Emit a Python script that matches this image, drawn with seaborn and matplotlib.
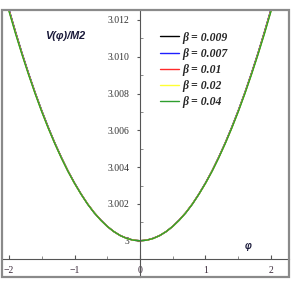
import pandas as pd
import seaborn as sns
from matplotlib import pyplot as plt
from matplotlib.patches import Rectangle
from matplotlib.ticker import MultipleLocator

# values (phi from -2 to 2)
phi = [-2.0, -1.9, -1.8, -1.7, -1.6, -1.5, -1.4, -1.3, -1.2, -1.1, -1.0,
       -0.9, -0.8, -0.7, -0.6, -0.5, -0.4, -0.3, -0.2, -0.1, 0.0,
       0.1, 0.2, 0.3, 0.4, 0.5, 0.6, 0.7, 0.8, 0.9, 1.0,
       1.1, 1.2, 1.3, 1.4, 1.5, 1.6, 1.7, 1.8, 1.9, 2.0]
v_0009 = [3.01257, 3.01135, 3.01018, 3.00908, 3.00804, 3.00707, 3.00616, 3.00531, 3.00453, 3.00380, 3.00314,
          3.00254, 3.00200, 3.00153, 3.00113, 3.00078, 3.00050, 3.00028, 3.00013, 3.00003, 3.0,
          3.00003, 3.00013, 3.00028, 3.00050, 3.00078, 3.00113, 3.00153, 3.00200, 3.00254, 3.00314,
          3.00380, 3.00453, 3.00531, 3.00616, 3.00707, 3.00804, 3.00908, 3.01018, 3.01135, 3.01257]
v_0007 = [3.01255, 3.01132, 3.01016, 3.00907, 3.00803, 3.00706, 3.00615, 3.00530, 3.00452, 3.00379, 3.00314,
          3.00254, 3.00200, 3.00153, 3.00113, 3.00078, 3.00050, 3.00028, 3.00013, 3.00003, 3.0,
          3.00003, 3.00013, 3.00028, 3.00050, 3.00078, 3.00113, 3.00153, 3.00200, 3.00254, 3.00314,
          3.00379, 3.00452, 3.00530, 3.00615, 3.00706, 3.00803, 3.00907, 3.01016, 3.01132, 3.01255]
v_001 = [3.01252, 3.01130, 3.01014, 3.00905, 3.00801, 3.00704, 3.00613, 3.00529, 3.00451, 3.00379, 3.00313,
         3.00254, 3.00200, 3.00153, 3.00113, 3.00078, 3.00050, 3.00028, 3.00013, 3.00003, 3.0,
         3.00003, 3.00013, 3.00028, 3.00050, 3.00078, 3.00113, 3.00153, 3.00200, 3.00254, 3.00313,
         3.00379, 3.00451, 3.00529, 3.00613, 3.00704, 3.00801, 3.00905, 3.01014, 3.01130, 3.01252]
v_002 = [3.01250, 3.01128, 3.01012, 3.00903, 3.00800, 3.00703, 3.00612, 3.00528, 3.00450, 3.00378, 3.00312,
         3.00253, 3.00200, 3.00153, 3.00112, 3.00078, 3.00050, 3.00028, 3.00012, 3.00003, 3.0,
         3.00003, 3.00012, 3.00028, 3.00050, 3.00078, 3.00112, 3.00153, 3.00200, 3.00253, 3.00312,
         3.00378, 3.00450, 3.00528, 3.00612, 3.00703, 3.00800, 3.00903, 3.01012, 3.01128, 3.01250]
v_004 = [3.01247, 3.01125, 3.01010, 3.00901, 3.00798, 3.00701, 3.00611, 3.00527, 3.00449, 3.00377, 3.00312,
         3.00253, 3.00199, 3.00152, 3.00112, 3.00078, 3.00050, 3.00028, 3.00012, 3.00003, 3.0,
         3.00003, 3.00012, 3.00028, 3.00050, 3.00078, 3.00112, 3.00152, 3.00199, 3.00253, 3.00312,
         3.00377, 3.00449, 3.00527, 3.00611, 3.00701, 3.00798, 3.00901, 3.01010, 3.01125, 3.01247]

betas = ['β = 0.009', 'β = 0.007', 'β = 0.01', 'β = 0.02', 'β = 0.04']
series = [v_0009, v_0007, v_001, v_002, v_004]
colors = ['#000000', '#1f1fff', '#ff2a2a', '#ffff33', '#2e9e2e']

x_ticks = [-2, -1, 0, 1, 2]
x_labels = ['−2', '−1', '0', '1', '2']
y_ticks = [3.0, 3.002, 3.004, 3.006, 3.008, 3.010, 3.012]
y_labels = ['3', '3.002', '3.004', '3.006', '3.008', '3.010', '3.012']

df = pd.concat([pd.DataFrame({'phi': phi, 'V': v, 'beta': b}) for b, v in zip(betas, series)])

sns.set_style('white')
plt.rcParams['font.family'] = ['Liberation Serif', 'DejaVu Serif']

fig = plt.figure(figsize=(2.95, 2.85), dpi=100)
ax = fig.add_axes([2 / 295, 8 / 285, 287 / 295, 267 / 285])

sns.lineplot(data=df, x='phi', y='V', hue='beta', palette=colors, linewidth=1.0,
             sort=False, ax=ax, legend=True)

ax.set_xlim(-2.107, 2.275)
ax.set_ylim(2.99803, 3.01254)

# maple style axes crossing inside the box
ax.spines['left'].set_position(('data', 0))
ax.spines['bottom'].set_position(('data', 2.99899))
ax.spines['top'].set_visible(False)
ax.spines['right'].set_visible(False)
for s in ['left', 'bottom']:
    ax.spines[s].set_color('#555555')
    ax.spines[s].set_linewidth(0.8)
ax.add_patch(Rectangle((0, 0), 1, 1, transform=ax.transAxes, fill=False,
                       ec='#8a8a8a', lw=1.6, clip_on=False, zorder=5))

ax.set_xticks(x_ticks)
ax.set_xticklabels(x_labels)
ax.set_yticks(y_ticks)
ax.set_yticklabels(y_labels)
ax.xaxis.set_minor_locator(MultipleLocator(0.5))
ax.yaxis.set_minor_locator(MultipleLocator(0.001))
ax.tick_params(axis='x', which='major', direction='in', length=3, width=0.8,
               color='#555555', labelsize=7.0, labelcolor='#3a2a3a', pad=5, bottom=True)
ax.tick_params(axis='x', which='minor', direction='in', length=2, width=0.6,
               color='#777777', bottom=True)
ax.tick_params(axis='y', which='major', direction='out', length=2.5, width=0.8,
               color='#555555', labelsize=7.0, labelcolor='#333333', pad=5, left=True)
ax.tick_params(axis='y', which='minor', direction='in', length=2, width=0.6,
               color='#777777', left=True)
ax.set_xlabel('')
ax.set_ylabel('')

ax.text(0.150, 0.901, 'V(φ)/M2', transform=ax.transAxes, fontsize=7.8, va='center',
        fontweight='bold', fontstyle='italic', color='#1a1a3a',
        family=['Liberation Sans', 'DejaVu Sans'])
ax.text(0.847, 0.116, 'φ', transform=ax.transAxes, fontsize=7.0, va='center',
        fontweight='bold', fontstyle='italic', color='#1a1a3a',
        family=['Liberation Sans', 'DejaVu Sans'])

leg = ax.legend(loc='upper left', bbox_to_anchor=(0.551, 0.919), frameon=False,
                borderpad=0, borderaxespad=0, handlelength=1.6, handletextpad=0.3,
                labelspacing=0.34, prop={'size': 8.5, 'weight': 'bold', 'style': 'italic'})
for line in leg.get_lines():
    line.set_linewidth(1.0)

fig.savefig('out.png', dpi=100)
